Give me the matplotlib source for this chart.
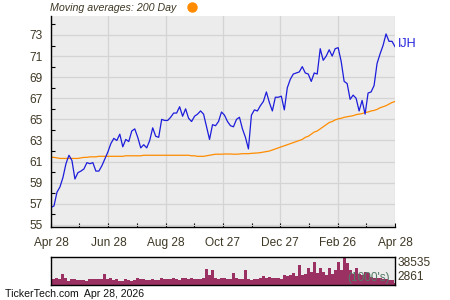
import numpy as np
import pandas as pd
import matplotlib
matplotlib.use('Agg')
import matplotlib.pyplot as plt
from matplotlib.lines import Line2D

plt.rcParams['font.family'] = ['Liberation Sans', 'DejaVu Sans']

start = '2025-04-28'
end = '2026-04-28'

# closing price (USD)
price = [56.65, 56.8, 58.1, 58.6, 59.5, 60.8, 61.6, 61.1, 59.35, 59.95,
         60.1, 60.3, 60.9, 60.8, 60.9, 60.1, 60.1, 60.6, 61.25, 61.9,
         62.7, 63.2, 63.0, 63.6, 62.4, 63.1, 62.9, 63.9, 64.1, 63.3,
         62.3, 62.6, 62.3, 63.0, 64.2, 63.4, 63.3, 65.0, 64.9, 64.9,
         65.2, 65.6, 65.6, 66.2, 65.3, 66.0, 65.1, 64.8, 65.3, 65.5,
         65.8, 65.5, 64.3, 63.1, 64.5, 64.4, 64.8, 65.7, 65.4, 64.8,
         64.4, 64.3, 65.0, 65.2, 64.1, 63.3, 62.2, 65.4, 65.9, 65.8,
         66.3, 66.7, 67.6, 66.6, 65.8, 67.1, 67.1, 67.2, 65.9, 68.0,
         68.8, 69.3, 69.4, 69.5, 70.0, 69.4, 69.3, 68.6, 69.4, 69.3,
         71.7, 70.6, 71.0, 71.6, 71.0, 71.7, 71.8, 70.5, 68.6, 68.4,
         66.9, 67.3, 67.0, 65.8, 66.8, 65.5, 67.5, 67.6, 68.2, 70.3,
         71.2, 72.0, 73.1, 72.4, 72.4, 71.9]

# 200 day moving average
ma200 = [61.4, 61.4, 61.35, 61.3, 61.3, 61.3, 61.3, 61.3, 61.3, 61.3,
         61.35, 61.4, 61.4, 61.45, 61.45, 61.45, 61.5, 61.5, 61.5, 61.5,
         61.5, 61.5, 61.5, 61.5, 61.5, 61.55, 61.55, 61.55, 61.55, 61.55,
         61.55, 61.6, 61.6, 61.6, 61.6, 61.6, 61.6, 61.6, 61.6, 61.6,
         61.6, 61.6, 61.6, 61.6, 61.6, 61.6, 61.6, 61.55, 61.55, 61.5,
         61.5, 61.5, 61.55, 61.6, 61.65, 61.7, 61.7, 61.7, 61.72, 61.72,
         61.72, 61.7, 61.7, 61.72, 61.75, 61.75, 61.75, 61.78, 61.8, 61.82,
         61.85, 61.9, 61.95, 62.0, 62.1, 62.2, 62.3, 62.4, 62.5, 62.6,
         62.7, 62.8, 62.9, 63.0, 63.1, 63.3, 63.4, 63.6, 63.8, 63.9,
         64.1, 64.3, 64.5, 64.7, 64.8, 64.95, 65.05, 65.1, 65.2, 65.25,
         65.3, 65.35, 65.45, 65.5, 65.55, 65.65, 65.7, 65.8, 65.85, 65.95,
         66.1, 66.2, 66.3, 66.45, 66.6, 66.7]

# volume in thousands
volume = [10.0, 8.3, 10.0, 8.3, 14.7, 10.0, 5.5, 7.8, 7.8, 6.9,
          6.5, 6.9, 5.9, 7.8, 7.8, 7.8, 8.3, 8.3, 15.1, 8.7,
          9.2, 6.9, 7.8, 5.9, 5.5, 8.3, 6.9, 5.9, 6.5, 9.2,
          8.3, 8.3, 6.9, 6.5, 8.3, 6.9, 6.5, 9.2, 7.8, 8.3,
          8.3, 9.2, 7.8, 7.3, 10.0, 9.2, 8.3, 9.2, 8.3, 7.8,
          8.3, 9.2, 22.0, 13.8, 20.6, 10.0, 8.3, 10.0, 10.0, 8.3,
          8.3, 16.1, 9.2, 8.3, 8.3, 20.6, 8.3, 6.9, 7.8, 8.3,
          10.0, 12.4, 10.0, 11.4, 9.2, 10.0, 9.2, 8.3, 13.8, 12.8,
          13.8, 16.1, 12.8, 27.5, 13.8, 14.7, 23.0, 17.5, 32.1, 16.1,
          23.0, 18.3, 13.8, 23.8, 14.7, 20.6, 32.1, 20.6, 38.535, 29.9,
          20.6, 14.7, 23.0, 14.7, 13.8, 18.3, 16.1, 11.4, 9.2, 9.2,
          9.2, 8.3, 8.3, 6.9, 6.9, 2.861]

tick_dates = ['2025-04-28', '2025-06-28', '2025-08-28', '2025-10-27',
              '2025-12-27', '2026-02-26', '2026-04-28']
tick_labels = ['Apr 28', 'Jun 28', 'Aug 28', 'Oct 27', 'Dec 27', 'Feb 26', 'Apr 28']
minor_dates = ['2025-05-28', '2025-07-28', '2025-09-27', '2025-11-27',
               '2026-01-27', '2026-03-28']

dates = pd.date_range(start, end, periods=len(price))
bar_w = (pd.Timestamp(end) - pd.Timestamp(start)).days / (len(price) - 1)

txt = '#3d3724'
bg = '#ececec'

fig = plt.figure(figsize=(4.5, 3), dpi=100, facecolor='white')

# price panel
ax = fig.add_axes([51/450, 73/300, 344/450, 211/300], facecolor=bg)
ax.plot(dates, ma200, color='#ff8c00', lw=0.9)
ax.plot(dates, price, color='#1c1cdc', lw=0.9)
ax.set_xlim(pd.Timestamp(start), pd.Timestamp(end))
ax.set_ylim(54.8, 74.8)
ax.set_yticks(np.arange(55, 74, 2))
ax.set_yticks(np.arange(56, 75, 2), minor=True)
ax.set_xticks(pd.to_datetime(tick_dates))
ax.set_xticklabels(tick_labels)
ax.set_xticks(pd.to_datetime(minor_dates), minor=True)
ax.grid(True, which='major', color='#d4d4d4', lw=0.9)
ax.set_axisbelow(True)
for s in ['top', 'right']:
    ax.spines[s].set_visible(False)
for s in ['left', 'bottom']:
    ax.spines[s].set_color('black')
    ax.spines[s].set_linewidth(1.0)
ax.tick_params(axis='y', which='major', length=0, pad=6, labelsize=8.6, labelcolor=txt)
ax.tick_params(axis='y', which='minor', direction='in', length=3, width=0.8)
ax.tick_params(axis='x', which='both', direction='in', length=3, width=0.8)
ax.tick_params(axis='x', which='major', pad=7, labelsize=8.6, labelcolor=txt)

# volume panel
ax2 = fig.add_axes([51/450, 15/300, 344/450, 28/300], facecolor=bg)
ax2.bar(dates, volume, width=bar_w, color='#9b3163', align='center')
ax2.set_xlim(pd.Timestamp(start), pd.Timestamp(end))
ax2.set_ylim(0, 38.9)
ax2.set_xticks([])
ax2.yaxis.tick_right()
ax2.set_yticks([min(volume), max(volume)])
ax2.set_yticklabels(['%d' % round(min(volume)*1000), '%d' % round(max(volume)*1000)])
ax2.tick_params(axis='y', length=0, pad=2, labelsize=8.6, labelcolor=txt)
labs = ax2.get_yticklabels()
labs[0].set_va('bottom')
labs[1].set_va('top')
for s in ax2.spines.values():
    s.set_color('black')
    s.set_linewidth(1.0)
ax2.text(0.985, 0.02, "(1000's)", transform=ax2.transAxes, ha='right', va='bottom',
         fontsize=8.6, color='#557a66')

# header, labels, footer
fig.text(50/450, 1 - 8/300, 'Moving averages: 200 Day', style='italic', va='center',
         fontsize=7.7, color=txt)
fig.add_artist(Line2D([192/450], [1 - 7/300], marker='o', markersize=6.5, color='#ff8c00',
                      transform=fig.transFigure))
fig.text(398/450, 1 - 44/300, 'IJH', color='#2222dd', fontsize=9, va='center')
fig.text(5/450, 1 - 294/300, 'TickerTech.com  Apr 28, 2026', fontsize=7.6, va='center',
         color='#111111')

fig.savefig('out.png', dpi=100, facecolor='white')
